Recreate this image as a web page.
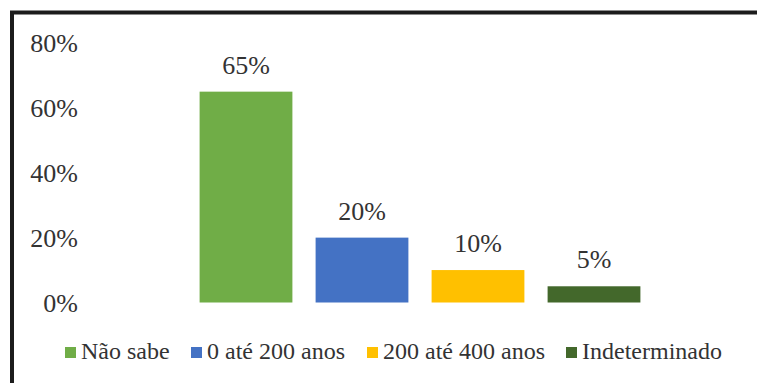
<!DOCTYPE html>
<html>
<head>
<meta charset="utf-8">
<script src="https://cdn.jsdelivr.net/npm/d3@7"></script>
<style>
  body { margin: 0; background: #fff; }
</style>
</head>
<body>
<script>
// Data
const categories = ['Não sabe', '0 até 200 anos', '200 até 400 anos', 'Indeterminado'];
const values = [0.65, 0.2, 0.1, 0.05];
const colors = ['#70AD47', '#4472C4', '#FFC000', '#43682B'];
const yTicks = [0, 0.2, 0.4, 0.6, 0.8];

const w = 757;
const h = 383;
const font = '"Liberation Serif"';
const textColor = '#333333';

const svg = d3
  .select('body')
  .append('svg')
  .attr('width', w)
  .attr('height', h);

// Frame (only top and left edges fall inside the picture)
svg
  .append('rect')
  .attr('x', 12)
  .attr('y', 12.5)
  .attr('width', w + 20)
  .attr('height', h + 20)
  .attr('fill', 'none')
  .attr('stroke', '#1c1c1c')
  .attr('stroke-width', 4);

const xScale = d3
  .scaleBand()
  .domain(categories)
  .range([188, 652])
  .paddingInner(0.2)
  .paddingOuter(0.1);

const yScale = d3
  .scaleLinear()
  .domain([0, 0.8])
  .range([302.5, 43]);

const yAxis = d3
  .axisLeft(yScale)
  .tickValues(yTicks)
  .tickSize(0)
  .tickPadding(0)
  .tickFormat(d3.format('.0%'));

const gy = svg
  .append('g')
  .attr('transform', 'translate(78,0)')
  .call(yAxis);
gy.attr('font-family', null).attr('font-size', null);
gy.select('.domain').remove();
gy.selectAll('text')
  .style('font-family', font)
  .style('font-size', '26px')
  .attr('fill', textColor)
  .attr('dy', '0.34em');

// Bars
svg
  .append('g')
  .selectAll('rect')
  .data(values)
  .enter()
  .append('rect')
  .attr('x', (d, i) => xScale(categories[i]))
  .attr('y', d => yScale(d))
  .attr('width', xScale.bandwidth())
  .attr('height', d => yScale(0) - yScale(d))
  .attr('fill', (d, i) => colors[i]);

// Value labels
svg
  .append('g')
  .selectAll('text')
  .data(values)
  .enter()
  .append('text')
  .attr('x', (d, i) => xScale(categories[i]) + xScale.bandwidth() / 2)
  .attr('y', d => yScale(d) - 18)
  .attr('text-anchor', 'middle')
  .style('font-family', font)
  .style('font-size', '26px')
  .attr('fill', textColor)
  .text(d => d3.format('.0%')(d));

// Legend
const legendX = [65, 191, 367, 566];
const legend = svg
  .append('g')
  .selectAll('g')
  .data(categories)
  .enter()
  .append('g')
  .attr('transform', (d, i) => 'translate(' + legendX[i] + ',0)');

legend
  .append('rect')
  .attr('x', 0)
  .attr('y', 347)
  .attr('width', 11)
  .attr('height', 11)
  .attr('fill', (d, i) => colors[i]);

legend
  .append('text')
  .attr('x', 16)
  .attr('y', 359)
  .style('font-family', font)
  .style('font-size', '24px')
  .attr('fill', textColor)
  .text(d => d);
</script>
</body>
</html>
